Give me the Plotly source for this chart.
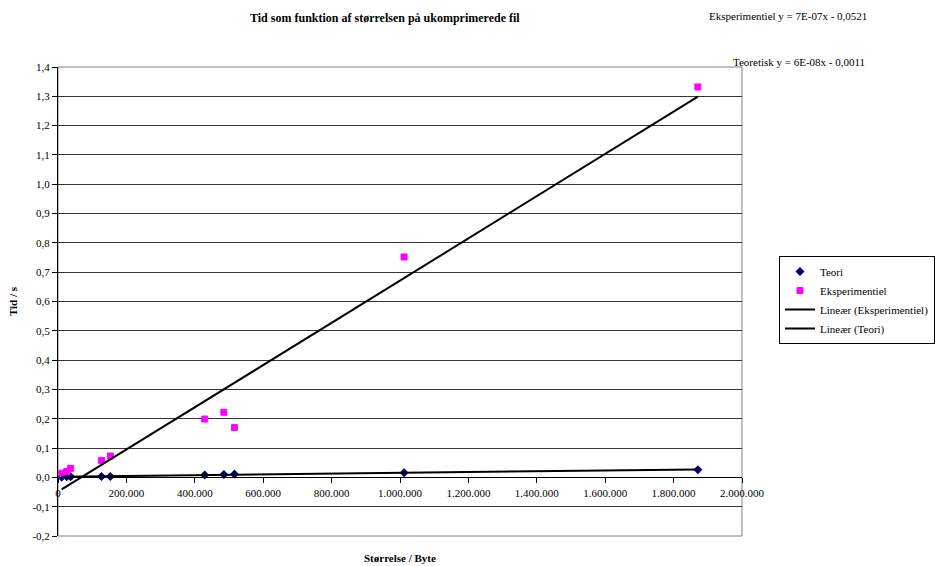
import numpy as np
import plotly.graph_objects as go

# Data
stoerrelse = [10800, 25500, 37000, 127000, 153000, 429000, 485000, 516000, 1012000, 1871000]
tid_teori = [0.001, 0.002, 0.002, 0.003, 0.003, 0.008, 0.010, 0.011, 0.016, 0.026]
tid_eksp = [0.014, 0.020, 0.031, 0.058, 0.073, 0.199, 0.222, 0.170, 0.752, 1.332]

y_tickvals = [-0.2, -0.1, 0.0, 0.1, 0.2, 0.3, 0.4, 0.5, 0.6, 0.7, 0.8, 0.9, 1.0, 1.1, 1.2, 1.3, 1.4]
y_ticktext = ["-0,2", "-0,1", "0,0", "0,1", "0,2", "0,3", "0,4", "0,5", "0,6", "0,7",
              "0,8", "0,9", "1,0", "1,1", "1,2", "1,3", "1,4"]
x_tickvals = [0, 200000, 400000, 600000, 800000, 1000000, 1200000, 1400000, 1600000, 1800000, 2000000]
x_ticktext = ["0", "200.000", "400.000", "600.000", "800.000", "1.000.000", "1.200.000",
              "1.400.000", "1.600.000", "1.800.000", "2.000.000"]

FONT = "'Liberation Serif', 'Times New Roman', Times, serif"

xs = np.array(stoerrelse, dtype=float)
xl = np.array([xs.min(), xs.max()])
pe = np.polyfit(xs, np.array(tid_eksp), 1)
pt = np.polyfit(xs, np.array(tid_teori), 1)

fig = go.Figure()
fig.add_trace(go.Scatter(x=stoerrelse, y=tid_teori, mode="markers", name="Teori",
                         marker=dict(symbol="diamond", size=7, color="#000080")))
fig.add_trace(go.Scatter(x=stoerrelse, y=tid_eksp, mode="markers", name="Eksperimentiel",
                         marker=dict(symbol="square", size=6, color="#FF00FF",
                                     line=dict(color="#FF00FF", width=1))))
fig.add_trace(go.Scatter(x=xl, y=np.polyval(pe, xl), mode="lines", name="Lineær (Eksperimentiel)",
                         line=dict(color="black", width=2)))
fig.add_trace(go.Scatter(x=xl, y=np.polyval(pt, xl), mode="lines", name="Lineær (Teori)",
                         line=dict(color="black", width=2)))

W_PLOT = 742 - 58
H_PLOT = 536 - 67

fig.update_layout(
    width=935, height=566,
    margin=dict(l=58, r=193, t=67, b=30, autoexpand=False),
    paper_bgcolor="white", plot_bgcolor="white",
    font=dict(family=FONT, size=11, color="black"),
    showlegend=True,
    legend=dict(x=(779 - 58) / W_PLOT, y=(536 - 256) / H_PLOT, xanchor="left", yanchor="top",
                bordercolor="black", borderwidth=1, bgcolor="white",
                font=dict(family=FONT, size=11), tracegroupgap=0, itemwidth=30),
    xaxis=dict(range=[0, 2000000], tickvals=x_tickvals, ticktext=x_ticktext,
               anchor="free", position=0.125, showgrid=False, zeroline=False,
               showline=True, linecolor="black", linewidth=1,
               ticks="outside", ticklen=5, tickcolor="black",
               tickfont=dict(family=FONT, size=11)),
    yaxis=dict(range=[-0.2, 1.4], tickvals=y_tickvals, ticktext=y_ticktext,
               showgrid=True, gridcolor="#333333", gridwidth=1, zeroline=False,
               showline=True, linecolor="black", linewidth=1,
               ticks="outside", ticklen=5, tickcolor="black",
               tickfont=dict(family=FONT, size=11),
               title=dict(text="<b>Tid / s</b>", font=dict(family=FONT, size=11), standoff=12)),
    shapes=[dict(type="rect", xref="paper", yref="paper", x0=0, x1=1, y0=0, y1=1,
                 line=dict(color="#808080", width=1), layer="below")],
    annotations=[
        dict(text="<b>Tid som funktion af størrelsen på ukomprimerede fil</b>",
             x=(385 - 58) / W_PLOT, y=1 + (67 - 18) / H_PLOT, xref="paper", yref="paper",
             showarrow=False, yanchor="middle", font=dict(family=FONT, size=12)),
        dict(text="<b>Størrelse / Byte</b>", x=0.5, y=-(558 - 536) / H_PLOT,
             xref="paper", yref="paper", showarrow=False, yanchor="middle",
             font=dict(family=FONT, size=11)),
        dict(text="Eksperimentiel y = 7E-07x - 0,0521", x=(788 - 58) / W_PLOT,
             y=1 + (67 - 16) / H_PLOT, xref="paper", yref="paper", showarrow=False,
             xanchor="center", yanchor="middle", font=dict(family=FONT, size=11)),
        dict(text="Teoretisk y = 6E-08x - 0,0011", x=(799 - 58) / W_PLOT,
             y=1 + (67 - 62) / H_PLOT, xref="paper", yref="paper", showarrow=False,
             xanchor="center", yanchor="middle", font=dict(family=FONT, size=11)),
    ],
)

fig.write_html("out.html")
